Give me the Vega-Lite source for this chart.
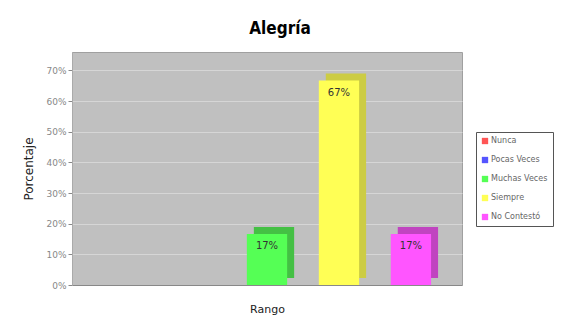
{
  "$schema": "https://vega.github.io/schema/vega-lite/v6.json",
  "autosize": {"type": "none"},
  "width": 390,
  "height": 233,
  "padding": {"left": 72, "top": 52, "right": 102, "bottom": 44},
  "background": "white",
  "title": {"text": "Alegría", "anchor": "middle", "dx": 13, "offset": 14, "fontSize": 17, "font": "Liberation Sans Narrow, DejaVu Sans Condensed, sans-serif", "fontWeight": "bold", "color": "#000000"},
  "config": {
    "view": {"fill": "#c0c0c0", "stroke": "#a0a0a0"},
    "axis": {"labelFont": "DejaVu Sans", "titleFont": "DejaVu Sans"},
    "legend": {"labelFont": "DejaVu Sans"}
  },
  "data": {"values": [
    {"rango": "Nunca", "v": 0, "dark": "Nunca_d"},
    {"rango": "Pocas Veces", "v": 0, "dark": "Pocas_d"},
    {"rango": "Muchas Veces", "v": 0.1667, "dark": "Muchas_d"},
    {"rango": "Siempre", "v": 0.6667, "dark": "Siempre_d"},
    {"rango": "No Contestó", "v": 0.1667, "dark": "No_d"}
  ]},
  "encoding": {
    "x": {"field": "rango", "type": "nominal", "sort": null,
      "scale": {"paddingInner": 0.44, "paddingOuter": 0.43},
      "axis": {"title": "Rango", "labels": false, "ticks": false, "domainColor": "#888888", "titleFontSize": 11, "titleFontWeight": "normal", "titleColor": "#222222", "titlePadding": 18}},
    "y": {"field": "v", "type": "quantitative",
      "scale": {"domain": [0, 0.76], "nice": false},
      "axis": {"title": "Porcentaje", "format": ".0%", "values": [0, 0.1, 0.2, 0.3, 0.4, 0.5, 0.6, 0.7], "labelFontSize": 9, "labelColor": "#888888", "tickColor": "#888888", "tickSize": 4, "domainColor": "#aaaaaa", "gridColor": "#d6d6d6", "titleFontSize": 12, "titleFontWeight": "normal", "titleColor": "#222222", "titlePadding": 10}}
  },
  "layer": [
    {
      "mark": {"type": "bar", "xOffset": 7, "yOffset": -7},
      "encoding": {
        "color": {"field": "dark", "type": "nominal", "legend": null,
          "scale": {"domain": ["Nunca_d", "Pocas_d", "Muchas_d", "Siempre_d", "No_d"], "range": ["#c84444", "#4444c8", "#44c044", "#cccc44", "#c044c0"]}}
      }
    },
    {
      "mark": {"type": "bar"},
      "encoding": {
        "color": {"field": "rango", "type": "nominal", "sort": null,
          "scale": {"domain": ["Nunca", "Pocas Veces", "Muchas Veces", "Siempre", "No Contestó"], "range": ["#ff5555", "#5555ff", "#55ff55", "#ffff55", "#ff55ff"]},
          "legend": {"title": null, "orient": "none", "legendX": 404, "legendY": 80, "strokeColor": "#555555", "fillColor": "white", "padding": 5, "symbolType": "square", "symbolSize": 40, "symbolStrokeWidth": 0, "labelFontSize": 8, "labelColor": "#666666", "rowPadding": 11, "labelOffset": 2, "labelLimit": 64}}
      }
    },
    {
      "transform": [{"filter": "datum.v > 0"}],
      "mark": {"type": "text", "baseline": "top", "dy": 7, "fontSize": 10, "font": "DejaVu Sans", "color": "#333333"},
      "encoding": {
        "text": {"field": "v", "type": "quantitative", "format": ".0%"}
      }
    }
  ],
  "resolve": {"scale": {"color": "independent"}}
}
